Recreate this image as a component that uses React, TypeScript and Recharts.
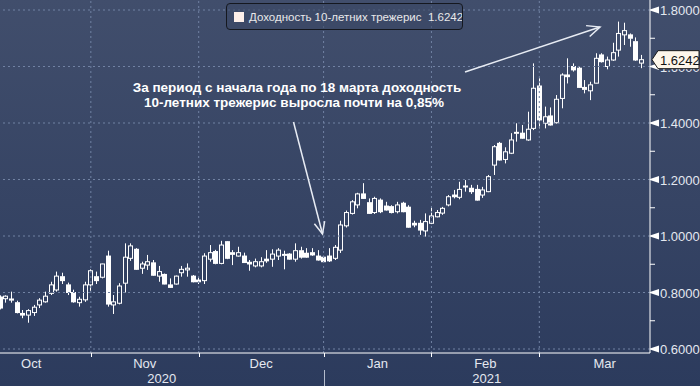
import React from 'react';
import { ComposedChart, Bar, XAxis, YAxis, ReferenceLine } from 'recharts';

// daily candles, US 10y yield, Oct 2020 – Mar 2021
const opens = [
  0.784, 0.778, 0.777, 0.764, 0.726, 0.72, 0.729, 0.756, 0.767, 0.797,
  0.809, 0.856, 0.827, 0.8, 0.764, 0.774, 0.827, 0.856, 0.854, 0.929,
  0.756, 0.762, 0.833, 0.921, 0.953, 0.886, 0.897, 0.905, 0.858, 0.864,
  0.827, 0.83, 0.87, 0.88, 0.858, 0.844, 0.842, 0.918, 0.945, 0.903,
  0.98, 0.941, 0.929, 0.929, 0.907, 0.894, 0.894, 0.918, 0.918, 0.929,
  0.935, 0.936, 0.918, 0.948, 0.939, 0.941, 0.929, 0.925, 0.929, 0.921,
  0.95, 1.036, 1.08, 1.11, 1.149, 1.118, 1.083, 1.127, 1.106, 1.104,
  1.086, 1.116, 1.102, 1.045, 1.045, 1.018, 1.045, 1.068, 1.081, 1.11,
  1.145, 1.137, 1.177, 1.169, 1.165, 1.145, 1.157, 1.251, 1.328, 1.271,
  1.293, 1.367, 1.364, 1.34, 1.381, 1.531, 1.399, 1.425, 1.401, 1.487,
  1.57, 1.6, 1.594, 1.526, 1.514, 1.541, 1.641, 1.6, 1.623, 1.658,
  1.712, 1.712, 1.688, 1.612,
];
const highs = [
  0.79, 0.79, 0.803, 0.771, 0.738, 0.741, 0.756, 0.78, 0.803, 0.838,
  0.874, 0.87, 0.835, 0.81, 0.785, 0.838, 0.882, 0.874, 0.902, 0.948,
  0.791, 0.833, 0.974, 0.974, 0.957, 0.909, 0.933, 0.915, 0.894, 0.867,
  0.85, 0.86, 0.894, 0.903, 0.862, 0.856, 0.939, 0.968, 0.951, 0.983,
  0.982, 0.95, 0.962, 0.941, 0.915, 0.92, 0.925, 0.95, 0.953, 0.957,
  0.948, 0.939, 0.974, 0.962, 0.957, 0.957, 0.95, 0.93, 0.957, 0.968,
  1.054, 1.09, 1.127, 1.153, 1.187, 1.133, 1.139, 1.133, 1.121, 1.109,
  1.121, 1.121, 1.109, 1.054, 1.057, 1.08, 1.104, 1.092, 1.103, 1.145,
  1.163, 1.192, 1.198, 1.181, 1.181, 1.174, 1.216, 1.322, 1.333, 1.314,
  1.364, 1.399, 1.393, 1.44, 1.611, 1.558, 1.458, 1.455, 1.499, 1.576,
  1.629, 1.611, 1.6, 1.552, 1.546, 1.647, 1.647, 1.635, 1.684, 1.759,
  1.755, 1.717, 1.703, 1.641,
];
const lows = [
  0.74, 0.764, 0.764, 0.726, 0.709, 0.693, 0.717, 0.745, 0.764, 0.791,
  0.803, 0.83, 0.791, 0.764, 0.75, 0.767, 0.806, 0.83, 0.85, 0.75,
  0.724, 0.758, 0.8, 0.912, 0.88, 0.866, 0.88, 0.859, 0.838, 0.829,
  0.816, 0.828, 0.856, 0.856, 0.836, 0.83, 0.83, 0.909, 0.9, 0.9,
  0.918, 0.897, 0.927, 0.905, 0.877, 0.889, 0.889, 0.905, 0.891, 0.915,
  0.882, 0.916, 0.909, 0.92, 0.923, 0.93, 0.913, 0.907, 0.908, 0.915,
  0.94, 1.03, 1.076, 1.098, 1.131, 1.078, 1.078, 1.081, 1.09, 1.08,
  1.08, 1.084, 1.029, 1.031, 1.004, 0.998, 1.042, 1.066, 1.075, 1.105,
  1.133, 1.13, 1.157, 1.149, 1.125, 1.135, 1.155, 1.216, 1.267, 1.257,
  1.29, 1.334, 1.344, 1.337, 1.375, 1.381, 1.381, 1.391, 1.398, 1.452,
  1.54, 1.582, 1.524, 1.505, 1.481, 1.54, 1.614, 1.59, 1.62, 1.635,
  1.676, 1.67, 1.62, 1.594,
];
const closes = [
  0.745, 0.787, 0.773, 0.729, 0.72, 0.736, 0.748, 0.773, 0.787, 0.827,
  0.858, 0.842, 0.8, 0.767, 0.776, 0.827, 0.877, 0.842, 0.901, 0.759,
  0.767, 0.823, 0.925, 0.965, 0.882, 0.901, 0.909, 0.861, 0.874, 0.83,
  0.818, 0.858, 0.882, 0.886, 0.838, 0.838, 0.929, 0.941, 0.903, 0.968,
  0.921, 0.935, 0.941, 0.906, 0.901, 0.909, 0.909, 0.912, 0.936, 0.95,
  0.933, 0.918, 0.948, 0.925, 0.925, 0.933, 0.915, 0.909, 0.912, 0.96,
  1.039, 1.083, 1.121, 1.149, 1.133, 1.08, 1.133, 1.086, 1.092, 1.083,
  1.11, 1.086, 1.031, 1.039, 1.021, 1.051, 1.071, 1.083, 1.098, 1.139,
  1.139, 1.165, 1.175, 1.157, 1.127, 1.163, 1.21, 1.316, 1.269, 1.298,
  1.34, 1.364, 1.346, 1.378, 1.523, 1.411, 1.422, 1.393, 1.484, 1.57,
  1.564, 1.588, 1.526, 1.519, 1.535, 1.629, 1.617, 1.623, 1.649, 1.717,
  1.727, 1.7, 1.623, 1.6242,
];

const monthStarts = [16, 35, 57, 76, 95];
const monthLabels = ['Oct', 'Nov', 'Dec', 'Jan', 'Feb', 'Mar'];
const monthMids = [5.5, 25.5, 46, 66.5, 85.5, 106.5];
const yearLabels = ['2020', '2021'];
const yearMids = [28.5, 85.75];
const yearBreak = 57;
const yMajor = [0.6, 0.8, 1.0, 1.2, 1.4, 1.6, 1.8];
const yMinor = [0.7, 0.9, 1.1, 1.3, 1.5, 1.7];
const lastValue = 1.6242;
const seriesName = 'Доходность 10-летних трежерис';
const noteLines = [
  'За период с начала года по 18 марта доходность',
  '10-летних трежерис выросла почти на 0,85%',
];

const data = opens.map((o, i) => ({
  i,
  open: o,
  high: highs[i],
  low: lows[i],
  close: closes[i],
}));

const FONT = '"Liberation Sans", Arial, sans-serif';
const GRID = '#7182a3';
const AXIS_TEXT = '#e4e8f0';

function Candle(props: any) {
  const { x, y, width, height, payload } = props;
  if (x == null || y == null) return null;
  const { open, close, high, low } = payload;
  const yTop = Math.min(y, y + height);
  const yBot = Math.max(y, y + height);
  const span = high - low || 1;
  const py = (v: number) => yTop + ((high - v) / span) * (yBot - yTop);
  const cx = Math.round(x + width / 2) + 0.5;
  const up = close >= open;
  const bTop = py(Math.max(open, close));
  const bh = Math.max(py(Math.min(open, close)) - bTop, 1);
  return (
    <g>
      <line x1={cx} x2={cx} y1={yTop} y2={bTop} stroke="#fff" />
      <line x1={cx} x2={cx} y1={bTop + bh} y2={yBot} stroke="#fff" />
      {up ? (
        <rect x={cx - 2} y={bTop} width={4} height={bh} fill="none" stroke="#fff" />
      ) : (
        <rect x={cx - 2.5} y={bTop - 0.5} width={5} height={bh + 1} fill="#fff" />
      )}
    </g>
  );
}

function YTick(props: any) {
  const { x, y, payload } = props;
  const v = payload.value;
  if (v === lastValue) {
    return (
      <g>
        <polygon
          points={`${x + 2},${y} ${x + 8},${y - 9} ${x + 49},${y - 9} ${x + 49},${y + 9} ${x + 8},${y + 9}`}
          fill="#fdf6ea"
          stroke="#1c1c1c"
        />
        <text x={x + 10} y={y + 5} fontSize={13} fill="#111">{v.toFixed(4)}</text>
      </g>
    );
  }
  if (yMinor.includes(v)) {
    return <line x1={x} x2={x + 5} y1={y} y2={y} stroke="#fff" />;
  }
  return (
    <g>
      <polygon points={`${x},${y - 0.5} ${x + 9},${y - 3.5} ${x + 9},${y + 3.5} ${x},${y + 0.5}`} fill="#fff" />
      <text x={x + 10} y={y + 5} fontSize={13} fill={AXIS_TEXT}>{v.toFixed(4)}</text>
    </g>
  );
}

function XTick(props: any) {
  const { x, y, payload } = props;
  const v = payload.value;
  const m = monthMids.indexOf(v);
  if (m >= 0) {
    return <text x={x} y={y + 15} textAnchor="middle" fontSize={13} fill={AXIS_TEXT}>{monthLabels[m]}</text>;
  }
  const yr = yearMids.indexOf(v);
  if (yr >= 0) {
    return <text x={x} y={y + 30} textAnchor="middle" fontSize={13} fill={AXIS_TEXT}>{yearLabels[yr]}</text>;
  }
  const px = Math.round(x) + 0.5;
  return (
    <g>
      <line x1={px} x2={px} y1={y} y2={y + 4} stroke="#fff" />
      {v === yearBreak && <line x1={px} x2={px} y1={y + 17} y2={y + 33} stroke="#b4bccc" />}
    </g>
  );
}

function arrowHead(x1: number, y1: number, x2: number, y2: number, len = 13, ang = 0.42) {
  const a = Math.atan2(y2 - y1, x2 - x1);
  const p1 = [x2 - len * Math.cos(a - ang), y2 - len * Math.sin(a - ang)];
  const p2 = [x2 - len * Math.cos(a + ang), y2 - len * Math.sin(a + ang)];
  return `M${p1[0]},${p1[1]} L${x2},${y2} L${p2[0]},${p2[1]}`;
}

export default function App() {
  const xTicks = [...monthStarts, ...monthMids, ...yearMids];
  const yTicks = [...yMinor, ...yMajor, lastValue];
  return (
    <div
      style={{
        position: 'absolute',
        left: 0,
        top: 0,
        width: 700,
        height: 386,
        overflow: 'hidden',
        background: 'linear-gradient(#414e6c, #2c3b5d)',
        fontFamily: FONT,
      }}
    >
      <ComposedChart
        width={700}
        height={386}
        data={data}
        margin={{ top: 0, right: 0, bottom: 0, left: 0 }}
      >
        {yMajor.map(v => (
          <ReferenceLine key={`h${v}`} y={v} stroke={GRID} strokeDasharray="2 3" />
        ))}
        {monthStarts.map(v => (
          <ReferenceLine key={`v${v}`} x={v} stroke={GRID} strokeDasharray="2 3" />
        ))}
        <XAxis
          dataKey="i"
          type="number"
          domain={[0, 114.5]}
          allowDataOverflow
          ticks={xTicks}
          interval={0}
          height={33}
          tickSize={0}
          tickMargin={0}
          tickLine={false}
          axisLine={{ stroke: '#fff' }}
          tick={<XTick />}
        />
        <YAxis
          orientation="right"
          type="number"
          domain={[0.6 - 4 / 282.5, 1.8 + 10 / 282.5]}
          allowDataOverflow
          ticks={yTicks}
          interval={0}
          width={50}
          tickSize={0}
          tickMargin={0}
          tickLine={false}
          axisLine={{ stroke: '#fff' }}
          tick={<YTick />}
        />
        <Bar
          dataKey={(d: any) => [d.low, d.high]}
          barSize={5}
          shape={<Candle />}
          isAnimationActive={false}
        />
      </ComposedChart>

      <div
        style={{
          position: 'absolute',
          left: 226,
          top: 3,
          width: 235,
          height: 25,
          border: '1px solid #15181f',
          borderRadius: 4,
          background: 'rgba(58,71,100,0.6)',
          color: '#e8e8ea',
          fontSize: 11.5,
          whiteSpace: 'pre',
          display: 'flex',
          alignItems: 'center',
          overflow: 'hidden',
        }}
      >
        <span
          style={{
            flexShrink: 0,
            display: 'inline-block',
            width: 10,
            height: 10,
            background: '#fdefe9',
            margin: '0 5px 0 7px',
          }}
        />
        <span style={{ flexShrink: 0 }}>{seriesName + '  ' + lastValue.toFixed(4)}</span>
      </div>

      <svg width={700} height={386} style={{ position: 'absolute', left: 0, top: 0, pointerEvents: 'none' }}>
        <text x={297} y={92} textAnchor="middle" fontSize={13.5} fontWeight="bold" fill="#fff">{noteLines[0]}</text>
        <text x={294} y={107} textAnchor="middle" fontSize={13.5} fontWeight="bold" fill="#fff">{noteLines[1]}</text>
        <g stroke="#e8ecf4" strokeWidth={1.5} fill="none">
          <line x1={293.5} y1={122} x2={322.5} y2={234} />
          <path d={arrowHead(293.5, 122, 322.5, 234)} />
          <line x1={465} y1={72} x2={600} y2={27} />
          <path d={arrowHead(465, 72, 600, 27, 14)} />
        </g>
      </svg>
    </div>
  );
}
